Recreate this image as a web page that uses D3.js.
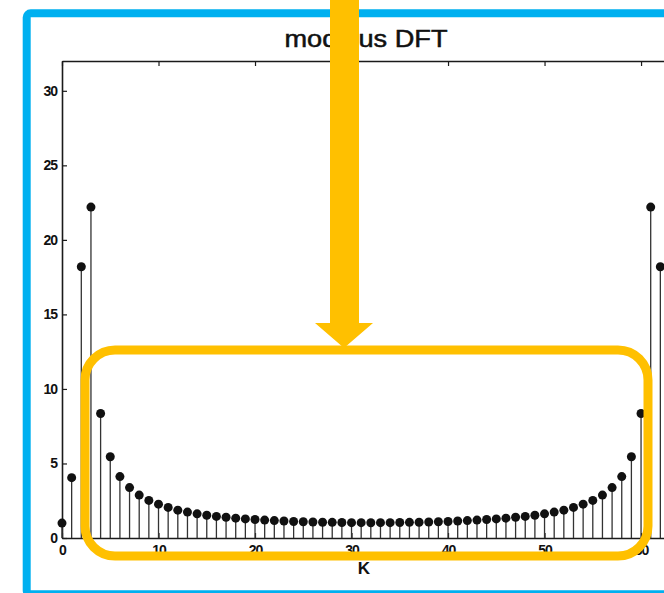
<!DOCTYPE html>
<html>
<head>
<meta charset="utf-8">
<script src="https://cdn.jsdelivr.net/npm/d3@7"></script>
<style>
  body { margin: 0; background: #fff; }
  svg { display: block; }
  .tick text { font-family: "Liberation Sans", Arial, sans-serif; font-weight: bold; font-size: 14px; fill: #111; }
</style>
</head>
<body>
<script>
// scanned "modulus DFT" stem plot, 64-point DFT (right end clipped by the window)
var title = "modulus DFT";
var xLabel = "K";
var kValues = d3.range(0, 64);
var modulus = [
  1.00, 4.05, 18.2, 22.2, 8.35, 5.45, 4.12, 3.38, 2.88, 2.52,
  2.27, 2.05, 1.87, 1.74, 1.62, 1.53, 1.45, 1.39, 1.33, 1.28,
  1.24, 1.20, 1.17, 1.14, 1.11, 1.09, 1.07, 1.06, 1.05, 1.04,
  1.03, 1.03, 1.02, 1.03, 1.03, 1.04, 1.05, 1.06, 1.07, 1.09,
  1.11, 1.14, 1.17, 1.20, 1.24, 1.28, 1.33, 1.39, 1.45, 1.53,
  1.62, 1.74, 1.87, 2.05, 2.27, 2.52, 2.88, 3.38, 4.12, 5.45,
  8.35, 22.2, 18.2, 4.05
];
var xTicks = [0, 10, 20, 30, 40, 50, 60];
var yTicks = [0, 5, 10, 15, 20, 25, 30];

var W = 664, H = 593;
var margin = {left: 62, top: 61, right: -6, bottom: 55},
    width = W - margin.left - margin.right,
    height = H - margin.top - margin.bottom;

var ink = "#1a1a1a";
var orange = "#FFC000";
var blue = "#00B0F0";

var svg = d3.select("body")
    .append("svg")
    .attr("width", W)
    .attr("height", H)
    .style("overflow", "hidden");

var x = d3.scaleLinear().domain([0, 63]).range([0, width]);
var y = d3.scaleLinear().domain([0, 32]).range([height, 0]);

var g = svg.append("g")
    .attr("transform", "translate(" + margin.left + "," + margin.top + ")");

// axes, ticks pointing inward like the original
function styleAxis(sel) {
    sel.select(".domain").attr("stroke", ink).attr("stroke-width", 1.6);
    sel.selectAll(".tick line").attr("stroke", ink).attr("stroke-width", 1.2);
}

g.append("g")
    .attr("transform", "translate(0," + height + ")")
    .call(d3.axisBottom(x).tickValues(xTicks).tickSizeInner(-5).tickSizeOuter(0).tickPadding(7))
    .call(styleAxis);

g.append("g")
    .call(d3.axisTop(x).tickValues(xTicks).tickSizeInner(-5).tickSizeOuter(0).tickFormat(""))
    .call(styleAxis);

g.append("g")
    .call(d3.axisLeft(y).tickValues(yTicks).tickSizeInner(-5).tickSizeOuter(0).tickPadding(5))
    .call(styleAxis);

g.append("g")
    .attr("transform", "translate(" + width + ",0)")
    .call(d3.axisRight(y).tickValues(yTicks).tickSizeInner(-5).tickSizeOuter(0).tickFormat(""))
    .call(styleAxis);

g.selectAll(".tick text").attr("letter-spacing", "-1");

// stems
var pts = kValues.map(function (k, i) { return {k: k, v: modulus[i]}; });

g.selectAll(".stem")
    .data(pts)
    .enter()
    .append("line")
    .attr("class", "stem")
    .attr("x1", function (d) { return x(d.k); })
    .attr("x2", function (d) { return x(d.k); })
    .attr("y1", y(0))
    .attr("y2", function (d) { return y(d.v); })
    .attr("stroke", "#333")
    .attr("stroke-width", 1.3);

g.selectAll(".dot")
    .data(pts)
    .enter()
    .append("circle")
    .attr("class", "dot")
    .attr("cx", function (d) { return x(d.k); })
    .attr("cy", function (d) { return y(d.v); })
    .attr("r", 4.5)
    .attr("fill", "#111");

// title and x label
svg.append("text")
    .attr("x", margin.left + width / 2)
    .attr("y", 47)
    .attr("text-anchor", "middle")
    .attr("font-family", "Liberation Sans, Arial, sans-serif")
    .attr("font-size", 23)
    .attr("textLength", 163)
    .attr("lengthAdjust", "spacingAndGlyphs")
    .attr("fill", "#111")
    .attr("stroke", "#111")
    .attr("stroke-width", 0.5)
    .text(title);

svg.append("text")
    .attr("x", 364)
    .attr("y", 574)
    .attr("text-anchor", "middle")
    .attr("font-family", "Liberation Sans, Arial, sans-serif")
    .attr("font-weight", "bold")
    .attr("font-size", 17)
    .attr("fill", "#111")
    .text(xLabel);

// annotation overlays
svg.append("rect")
    .attr("x", 26.7).attr("y", 13.3)
    .attr("width", 700).attr("height", 581)
    .attr("rx", 4)
    .attr("fill", "none")
    .attr("stroke", blue)
    .attr("stroke-width", 8);

svg.append("rect")
    .attr("x", 85).attr("y", 350)
    .attr("width", 563).attr("height", 206)
    .attr("rx", 30)
    .attr("fill", "none")
    .attr("stroke", orange)
    .attr("stroke-width", 9);

svg.append("polygon")
    .attr("points", [[330, -2], [359, -2], [359, 323], [373, 323], [344, 348], [315, 323], [330, 323]].join(" "))
    .attr("fill", orange);
</script>
</body>
</html>
